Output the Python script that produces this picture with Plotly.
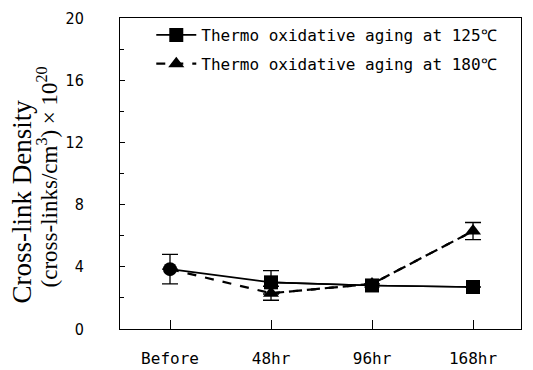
import plotly.graph_objects as go

categories = ["Before", "48hr", "96hr", "168hr"]
aging_125 = [3.85, 3.0, 2.8, 2.7]
aging_125_err = [0.95, 0.75, 0.0, 0.0]
aging_180 = [3.85, 2.3, 2.9, 6.3]
aging_180_err = [0.0, 0.45, 0.0, 0.55]
y_ticks = [0, 4, 8, 12, 16, 20]

xs = list(range(len(categories)))
mono = "DejaVu Sans Mono"
narrow = "Liberation Sans Narrow, DejaVu Sans Condensed, DejaVu Sans Mono"

series = [
    ("Thermo oxidative aging at 125℃", aging_125, aging_125_err, "solid", 1.6, "square", "a"),
    ("Thermo oxidative aging at 180℃", aging_180, aging_180_err, "dash", 2.2, "triangle-up", "b"),
]

fig = go.Figure()
for name, vals, errs, dash, lw, sym, grp in series:
    # full connecting line with error bars
    fig.add_trace(go.Scatter(
        x=xs, y=vals, mode="lines", showlegend=False, legendgroup=grp,
        line=dict(color="black", width=lw, dash=dash),
        error_y=dict(type="data", array=errs, color="black", thickness=1.3, width=8),
    ))
for name, vals, errs, dash, lw, sym, grp in series:
    # aged points with their own markers (legend entry)
    fig.add_trace(go.Scatter(
        x=xs[1:], y=vals[1:], mode="lines+markers", name=name, legendgroup=grp,
        line=dict(color="black", width=lw, dash=dash),
        marker=dict(symbol=sym, size=14, color="black"),
    ))
# shared starting point drawn as a circle
fig.add_trace(go.Scatter(
    x=xs[:1], y=aging_125[:1], mode="markers", showlegend=False,
    marker=dict(symbol="circle", size=14, color="black"),
))

fig.update_layout(
    width=533, height=370,
    margin=dict(l=112, r=20, t=10, b=49),
    paper_bgcolor="white", plot_bgcolor="white",
    showlegend=True,
    legend=dict(x=0.078, y=1.0, xanchor="left", yanchor="top",
                traceorder="grouped", bgcolor="rgba(0,0,0,0)",
                font=dict(family=mono, size=16, color="black"),
                itemwidth=40, tracegroupgap=5),
    xaxis=dict(range=[-0.495, 3.475], tickmode="array", tickvals=xs, ticktext=categories,
               ticks="inside", ticklen=9, tickcolor="black", showgrid=False, zeroline=False,
               showline=True, linecolor="black", linewidth=1, mirror=True, automargin=False,
               tickfont=dict(family=mono, size=16, color="black"), ticklabelstandoff=15),
    yaxis=dict(range=[0, 20], tickmode="array", tickvals=y_ticks,
               ticks="inside", ticklen=5, tickcolor="black", showgrid=False, zeroline=False,
               showline=True, linecolor="black", linewidth=1, mirror=True, automargin=False,
               ticklabeloverflow="allow",
               minor=dict(tickvals=[2, 6, 10, 14, 18], ticks="inside", ticklen=4, tickcolor="black"),
               tickfont=dict(family=narrow, size=16, color="black"), ticklabelstandoff=32),
    annotations=[
        dict(text="Cross-link Density", xref="paper", yref="paper",
             x=-0.242, y=0.41, xanchor="center", yanchor="middle", showarrow=False,
             textangle=-90, font=dict(family="Liberation Serif", size=27, color="black")),
        dict(text="(cross-links/cm<sup>3</sup>) × 10<sup>20</sup>", xref="paper", yref="paper",
             x=-0.18, y=0.49, xanchor="center", yanchor="middle", showarrow=False,
             textangle=-90, font=dict(family="Liberation Serif", size=23, color="black")),
    ],
)

fig.write_html("out.html")
